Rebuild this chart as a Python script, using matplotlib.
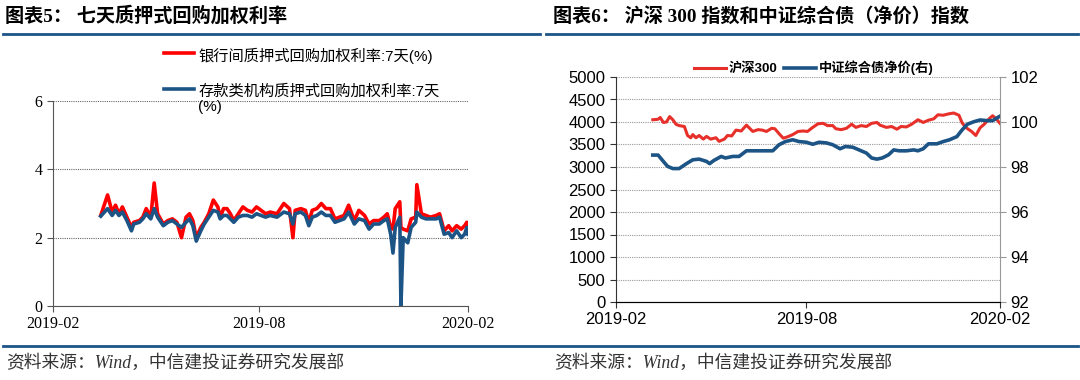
import numpy as np
import pandas as pd
import matplotlib
matplotlib.use("Agg")
import matplotlib.pyplot as plt
import matplotlib.dates as mdates
from matplotlib.lines import Line2D

SERIF = ['Liberation Serif', 'Noto Sans CJK SC']
SANS = ['Liberation Sans', 'Noto Sans CJK SC']
plt.rcParams['font.family'] = SANS
plt.rcParams['axes.unicode_minus'] = False

# chart 5 : 7-day pledged repo weighted rates (%)
repo_dates = ['2019-03-15', '2019-03-21', '2019-03-25', '2019-03-28', '2019-03-31', '2019-04-03',
              '2019-04-07', '2019-04-11', '2019-04-13', '2019-04-18', '2019-04-21', '2019-04-24',
              '2019-04-28', '2019-05-01', '2019-05-04', '2019-05-09', '2019-05-13', '2019-05-17',
              '2019-05-21', '2019-05-25', '2019-05-29', '2019-06-01', '2019-06-04', '2019-06-07',
              '2019-06-11', '2019-06-14', '2019-06-18', '2019-06-22', '2019-06-26', '2019-06-28',
              '2019-07-01', '2019-07-04', '2019-07-07', '2019-07-10', '2019-07-14', '2019-07-18',
              '2019-07-22', '2019-07-26', '2019-07-30', '2019-08-03', '2019-08-07', '2019-08-11',
              '2019-08-17', '2019-08-23', '2019-08-28', '2019-08-31', '2019-09-02', '2019-09-07',
              '2019-09-11', '2019-09-14', '2019-09-17', '2019-09-21', '2019-09-25', '2019-09-29',
              '2019-10-03', '2019-10-07', '2019-10-11', '2019-10-15', '2019-10-19', '2019-10-24',
              '2019-10-28', '2019-11-02', '2019-11-06', '2019-11-10', '2019-11-15', '2019-11-19',
              '2019-11-22', '2019-11-25', '2019-11-27', '2019-11-29', '2019-12-03', '2019-12-04',
              '2019-12-06', '2019-12-10', '2019-12-13', '2019-12-17', '2019-12-18', '2019-12-22',
              '2019-12-26', '2019-12-30', '2020-01-04', '2020-01-07', '2020-01-11', '2020-01-15',
              '2020-01-18', '2020-01-22', '2020-01-26', '2020-01-29', '2020-01-31', '2020-02-01']
interbank = [2.65, 3.25, 2.75, 2.95, 2.70, 2.90, 2.60, 2.30, 2.45, 2.50, 2.60, 2.85,
             2.60, 3.60, 2.70, 2.40, 2.50, 2.55, 2.45, 2.00, 2.60, 2.70, 2.50, 2.00,
             2.30, 2.45, 2.70, 3.10, 2.90, 2.60, 2.85, 2.85, 2.70, 2.50, 2.70, 2.90,
             2.80, 2.75, 2.90, 2.80, 2.70, 2.75, 2.70, 3.00, 2.85, 2.00, 2.80, 2.85,
             2.80, 2.45, 2.80, 2.85, 3.00, 2.85, 2.85, 2.55, 2.60, 2.65, 2.95, 2.50,
             2.80, 2.65, 2.40, 2.50, 2.50, 2.60, 2.70, 2.30, 2.25, 2.85, 3.05, 2.30,
             2.25, 2.20, 2.55, 2.60, 3.55, 2.70, 2.65, 2.60, 2.65, 2.70, 2.20, 2.35,
             2.20, 2.35, 2.25, 2.35, 2.45, 2.25]
depository = [2.63, 2.85, 2.65, 2.80, 2.65, 2.75, 2.50, 2.20, 2.40, 2.45, 2.55, 2.70,
              2.55, 2.85, 2.60, 2.35, 2.45, 2.50, 2.40, 2.30, 2.45, 2.55, 2.35, 1.90,
              2.20, 2.40, 2.60, 2.80, 2.75, 2.55, 2.65, 2.65, 2.55, 2.45, 2.60, 2.65,
              2.65, 2.60, 2.70, 2.65, 2.60, 2.65, 2.60, 2.75, 2.70, 2.40, 2.70, 2.75,
              2.65, 2.35, 2.60, 2.65, 2.75, 2.65, 2.65, 2.45, 2.50, 2.55, 2.75, 2.40,
              2.55, 2.50, 2.25, 2.40, 2.40, 2.50, 2.55, 2.10, 1.55, 2.30, 2.60, 0.00,
              2.00, 1.85, 2.30, 2.45, 2.75, 2.60, 2.55, 2.55, 2.55, 2.60, 2.10, 2.15,
              2.00, 2.20, 2.00, 2.10, 2.30, 2.10]

# chart 6 : CSI 300 (left axis) and CSI aggregate bond net price (right axis)
csi_dates = ['2019-03-08', '2019-03-13', '2019-03-15', '2019-03-18', '2019-03-21', '2019-03-24',
             '2019-03-27', '2019-03-30', '2019-04-02', '2019-04-07', '2019-04-10', '2019-04-13',
             '2019-04-15', '2019-04-18', '2019-04-21', '2019-04-25', '2019-04-28', '2019-05-02',
             '2019-05-07', '2019-05-10', '2019-05-15', '2019-05-18', '2019-05-22', '2019-05-26',
             '2019-05-31', '2019-06-05', '2019-06-08', '2019-06-11', '2019-06-16', '2019-06-20',
             '2019-06-24', '2019-06-29', '2019-07-02', '2019-07-06', '2019-07-10', '2019-07-14',
             '2019-07-19', '2019-07-24', '2019-07-29', '2019-08-02', '2019-08-07', '2019-08-12',
             '2019-08-17', '2019-08-21', '2019-08-26', '2019-08-29', '2019-09-03', '2019-09-08',
             '2019-09-13', '2019-09-17', '2019-09-22', '2019-09-27', '2019-10-02', '2019-10-07',
             '2019-10-10', '2019-10-16', '2019-10-21', '2019-10-26', '2019-10-30', '2019-11-04',
             '2019-11-09', '2019-11-15', '2019-11-20', '2019-11-25', '2019-11-30', '2019-12-04',
             '2019-12-09', '2019-12-14', '2019-12-19', '2019-12-24', '2019-12-27', '2019-12-31',
             '2020-01-05', '2020-01-09', '2020-01-13', '2020-01-17', '2020-01-22', '2020-01-25',
             '2020-01-28', '2020-02-01']
csi300 = [4050, 4060, 4100, 3990, 4000, 4120, 4050, 3950, 3920, 3900, 3700, 3650,
          3720, 3650, 3700, 3620, 3680, 3620, 3650, 3570, 3620, 3700, 3690, 3820,
          3800, 3930, 3860, 3790, 3830, 3820, 3790, 3860, 3850, 3740, 3640, 3670,
          3720, 3790, 3800, 3790, 3880, 3960, 3970, 3920, 3920, 3850, 3830, 3860,
          3950, 3880, 3920, 3900, 3970, 3990, 3930, 3880, 3900, 3840, 3900, 3890,
          3950, 4050, 3990, 4040, 4070, 4160, 4150, 4180, 4200, 4150, 3980, 3870,
          3790, 3700, 3870, 3950, 4080, 4140, 4080, 3970]

bond_dates = ['2019-03-08', '2019-03-13', '2019-03-18', '2019-03-22', '2019-03-27', '2019-04-02',
              '2019-04-09', '2019-04-15', '2019-04-21', '2019-04-28', '2019-05-01', '2019-05-05',
              '2019-05-12', '2019-05-16', '2019-05-23', '2019-05-29', '2019-06-05', '2019-06-09',
              '2019-06-14', '2019-06-30', '2019-07-06', '2019-07-12', '2019-07-19', '2019-07-25',
              '2019-08-01', '2019-08-07', '2019-08-13', '2019-08-20', '2019-08-26', '2019-09-02',
              '2019-09-07', '2019-09-14', '2019-09-21', '2019-09-27', '2019-10-02', '2019-10-07',
              '2019-10-12', '2019-10-18', '2019-10-23', '2019-10-28', '2019-11-04', '2019-11-11',
              '2019-11-15', '2019-11-20', '2019-11-25', '2019-12-03', '2019-12-09', '2019-12-15',
              '2019-12-22', '2019-12-27', '2020-01-01', '2020-01-07', '2020-01-13', '2020-01-20',
              '2020-01-25', '2020-01-28', '2020-02-01']
bond_net = [98.53, 98.53, 98.25, 98.03, 97.93, 97.93, 98.15, 98.32, 98.35, 98.25, 98.15, 98.29,
            98.47, 98.40, 98.47, 98.47, 98.72, 98.72, 98.72, 98.72, 98.99, 99.13, 99.21, 99.13,
            99.10, 99.01, 99.10, 99.07, 98.99, 98.81, 98.91, 98.88, 98.74, 98.62, 98.40, 98.35,
            98.40, 98.54, 98.76, 98.72, 98.72, 98.76, 98.72, 98.81, 99.03, 99.03, 99.13, 99.21,
            99.35, 99.65, 99.90, 100.01, 100.09, 100.06, 100.06, 100.15, 100.26]

date_ticks = ['2019-02-01', '2019-08-01', '2020-02-01']

RED = '#ff0000'
RED2 = '#e8302a'
BLUE = '#1c5486'

fig = plt.figure(figsize=(10.8, 3.8), dpi=100)

# ---- left panel ----
ax1 = fig.add_axes([53/1080, 1-306/380, (468-53)/1080, (306-101)/380])
l1, = ax1.plot(pd.to_datetime(repo_dates), interbank, color=RED, lw=2.6)
l2, = ax1.plot(pd.to_datetime(repo_dates), depository, color=BLUE, lw=2.6)
ax1.set_ylim(0, 6)
ax1.set_yticks([0, 2, 4, 6])
ax1.set_xlim(pd.to_datetime(date_ticks[0]), pd.to_datetime(date_ticks[-1]))
ax1.set_xticks(pd.to_datetime(date_ticks))
ax1.xaxis.set_major_formatter(mdates.DateFormatter('%Y-%m'))
ax1.grid(axis='y', color='#666666', ls=(0, (1, 1)), lw=0.8)
for s in ['top', 'right']:
    ax1.spines[s].set_visible(False)
ax1.spines['left'].set_color('#555555')
ax1.spines['bottom'].set_color('#555555')
ax1.tick_params(colors='#555555', labelcolor='black', labelsize=11.5, length=4,
                labelfontfamily=SERIF)
leg1 = fig.legend([l1, l2], ['银行间质押式回购加权利率:7天(%)', '存款类机构质押式回购加权利率:7天\n(%)'],
                  loc='upper left', bbox_to_anchor=(150/1080, 1-34/380), frameon=False,
                  fontsize=11, handlelength=2.0, handletextpad=0.25, labelspacing=1.3)
# keep the handle next to the first line of a wrapped label
for col in leg1._legend_handle_box.get_children():
    for item in col.get_children():
        item.align = 'top'

# ---- right panel ----
ax2 = fig.add_axes([616/1080, 1-302/380, (1000-616)/1080, (302-77)/380])
ax2r = ax2.twinx()
r1, = ax2.plot(pd.to_datetime(csi_dates), csi300, color=RED2, lw=2.2)
r2, = ax2r.plot(pd.to_datetime(bond_dates), bond_net, color=BLUE, lw=2.6)
ax2.set_ylim(0, 5000)
ax2.set_yticks(np.arange(0, 5001, 500))
ax2r.set_ylim(92, 102)
ax2r.set_yticks([92, 94, 96, 98, 100, 102])
ax2.set_xlim(pd.to_datetime(date_ticks[0]), pd.to_datetime(date_ticks[-1]))
ax2.set_xticks(pd.to_datetime(date_ticks))
ax2.xaxis.set_major_formatter(mdates.DateFormatter('%Y-%m'))
ax2.grid(axis='y', color='#999999', ls=(0, (1, 1)), lw=0.8)
for a in [ax2, ax2r]:
    a.spines['top'].set_visible(False)
ax2.spines['right'].set_visible(False)
ax2r.spines['left'].set_visible(False)
ax2.spines['left'].set_color('#333333')
ax2.spines['bottom'].set_color('#333333')
ax2r.spines['right'].set_color('#999999')
ax2.tick_params(colors='#333333', labelcolor='black', labelsize=12, length=4)
ax2r.tick_params(colors='#999999', labelcolor='black', labelsize=12, length=4)
fig.legend([r1, r2], ['沪深300', '中证综合债净价(右)'], loc='center',
           bbox_to_anchor=(814/1080, 1-68/380), ncol=2, frameon=False,
           prop={'size': 9.5, 'weight': 'bold'},
           handlelength=2.4, handletextpad=0.25, columnspacing=0.5)

# ---- titles, rules, sources ----
fig.text(5/1080, 1-16/380, '图表5： 七天质押式回购加权利率', fontsize=13.8,
         fontweight='bold', family=SERIF, va='center')
fig.text(553/1080, 1-16/380, '图表6： 沪深 300 指数和中证综合债（净价）指数', fontsize=13.8,
         fontweight='bold', family=SERIF, va='center')
fig.add_artist(Line2D([3/1080, 540/1080], [1-34/380]*2, color=BLUE, lw=2))
fig.add_artist(Line2D([546/1080, 1078/1080], [1-34/380]*2, color=BLUE, lw=2))
fig.add_artist(Line2D([3/1080, 1078/1080], [1-346/380]*2, color=BLUE, lw=2))
fig.text(6/1080, 1-363/380, '资料来源：Wind，中信建投证券研究发展部', fontsize=12.8,
         style='italic', family=SERIF, color='#333333', va='center')
fig.text(554/1080, 1-363/380, '资料来源：Wind，中信建投证券研究发展部', fontsize=12.8,
         style='italic', family=SERIF, color='#333333', va='center')

fig.savefig('out.png', dpi=100)
